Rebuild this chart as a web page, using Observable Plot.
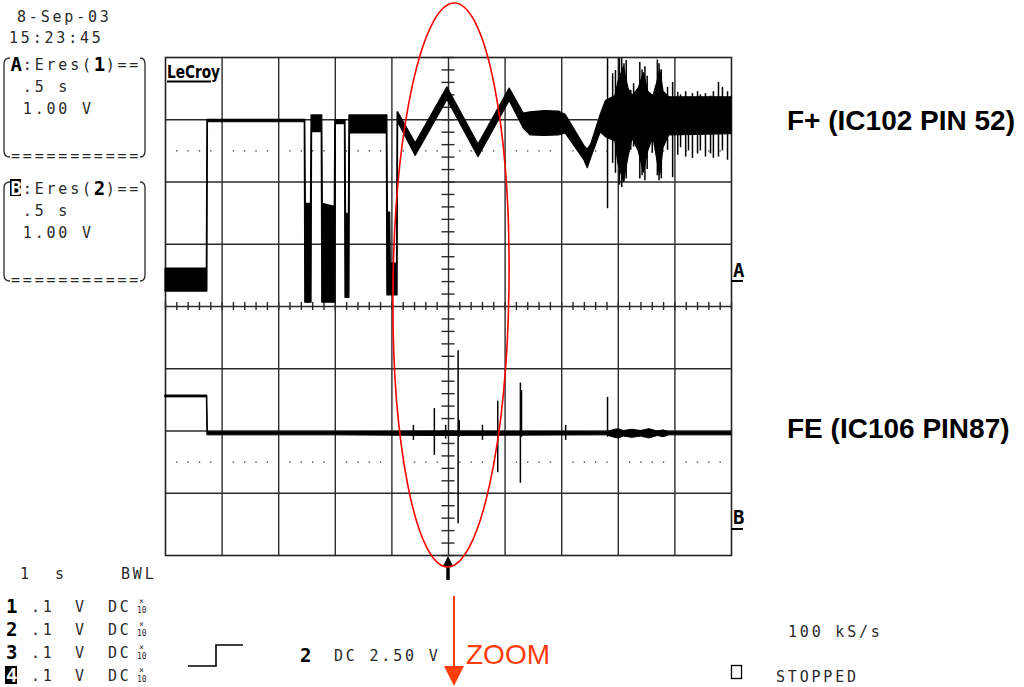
<!DOCTYPE html>
<html><head><meta charset="utf-8">
<script src="https://cdn.jsdelivr.net/npm/d3@7"></script>
<script src="https://cdn.jsdelivr.net/npm/@observablehq/plot@0.6"></script>
<style>
html,body{margin:0;padding:0;background:#fff;}
#wrap{position:relative;width:1024px;height:687px;overflow:hidden;background:#fff;}
#wrap svg{position:absolute;left:0;top:0;}
.mono{font-family:"DejaVu Sans Mono",monospace;font-size:15px;letter-spacing:2.8px;fill:#2a2a2a;}
.big{font-family:"DejaVu Sans Mono",monospace;font-size:19px;font-weight:bold;fill:#000;}
.tiny{font-family:"DejaVu Sans Mono",monospace;font-size:8px;fill:#2a2a2a;}
.lab{font-family:"Liberation Sans",Arial,sans-serif;font-weight:bold;font-size:28px;fill:#000;}
</style></head><body><div id="wrap"></div>
<script>
// ---- Trace A (F+), time in s (1 s/div), volts (1 V/div) relative to its ground dots ----
const tA  = [-5.00,-4.27,-4.26,-4.25,-2.54,-2.53,-2.52,-2.43,-2.42,-2.41,-2.24,-2.23,-2.22,-2.01,-2.00,-1.99,-1.83,-1.82,-1.81,-1.76,-1.75,-1.74,-1.09,-1.08,-1.07,-1.03,-1.02,-0.91,-0.90,-0.89,-0.58,-0.02,0.53,1.08,1.33,1.45,1.70,1.95,2.07,2.40,2.46,2.52,2.69,2.78,2.95,3.00,3.10,3.18,3.25,3.36,3.45,3.53,3.62,3.69,3.74,3.80,3.90,5.00];
const hiA = [-1.89,-1.89,0.50,0.50,0.50,0.50,-0.85,-0.85,0.57,0.57,0.57,0.57,-0.85,-0.90,0.49,0.49,0.49,0.49,-1.01,-1.01,0.57,0.57,0.57,0.57,-0.99,-0.99,-1.81,-1.81,0.62,0.62,0.12,1.02,0.10,1.00,0.60,0.62,0.64,0.63,0.58,0.08,0.02,0.10,0.58,0.80,0.88,1.10,1.35,1.00,0.88,1.00,1.25,0.95,0.88,1.10,1.30,0.95,0.86,0.86];
const loA = [-2.26,-2.26,-2.26,0.46,0.46,-2.44,-2.44,-2.44,-2.44,0.30,0.30,-2.44,-2.44,-2.44,-2.44,0.43,0.43,-2.36,-2.36,-2.36,-2.36,0.28,0.28,-2.32,-2.32,-2.32,-2.32,-2.32,-2.32,0.46,-0.08,0.82,-0.10,0.80,0.36,0.25,0.24,0.25,0.28,-0.15,-0.28,-0.12,0.30,0.22,0.15,-0.20,-0.50,-0.10,0.20,0.00,-0.35,0.00,0.22,-0.15,-0.40,0.05,0.25,0.27];
// spikes of trace A
const spTA  = [2.81,2.90,2.95,3.02,3.06,3.10,3.14,3.22,3.27,3.38,3.42,3.47,3.51,3.60,3.69,3.72,3.76,3.87,3.96,4.05,4.10,4.19,4.24,4.31,4.40,4.45,4.54,4.63,4.68,4.77,4.84,4.93];
const spHiA = [1.48,1.24,1.29,1.48,1.48,1.40,1.45,0.97,1.08,1.42,1.30,1.35,1.20,0.86,1.46,1.40,1.30,1.02,1.10,0.94,0.90,0.95,0.85,0.92,0.95,0.90,0.92,0.88,0.95,1.10,1.02,0.95];
const spLoA = [-0.93,-0.20,-0.36,-0.55,-0.59,-0.50,-0.45,0.01,0.06,-0.45,-0.40,-0.48,-0.30,-0.04,-0.40,-0.48,-0.45,0.01,-0.43,-0.07,0.05,-0.10,0.00,-0.12,-0.05,0.00,-0.10,-0.05,-0.12,-0.10,0.00,-0.15];

// ---- Trace B (FE) ----
const tB  = [-5.00,-4.27,-4.26,-4.25,-2.00,-0.30,2.80,2.90,3.00,3.10,3.25,3.40,3.55,3.70,3.80,3.90,5.00];
const hiB = [1.07,1.07,1.07,0.48,0.48,0.49,0.48,0.51,0.53,0.50,0.52,0.50,0.53,0.49,0.51,0.48,0.48];
const loB = [1.04,1.04,0.43,0.43,0.43,0.42,0.43,0.40,0.38,0.41,0.39,0.41,0.38,0.42,0.40,0.43,0.43];
const spTB  = [-0.62,-0.25,-0.05,0.17,0.19,0.60,0.87,1.27,1.29,2.07,2.81];
const spHiB = [0.59,0.86,0.59,1.79,0.67,0.59,0.98,1.27,1.15,0.59,1.04];
const spLoB = [0.35,0.11,0.37,-0.99,0.40,0.35,-0.17,-0.34,0.40,0.35,0.40];

// screen offsets of the two traces (divisions)
const offA = 2.5, offB = -2.5;

// graticule
const gridX = [-4,-3,-2,-1,0,1,2,3,4];
const gridY = [-3,-2,-1,0,1,2,3];
const minorX = d3.range(-25,26).map(i => i/5);
const minorY = d3.range(-20,21).map(i => i/5);
const dotX = d3.range(-25,25).filter(i => i % 5 !== 0).map(i => i/5);
const groundY = [offA, offB];

const rowsA = tA.map((t,i) => ({t, hi: hiA[i]+offA, lo: loA[i]+offA}));
const rowsB = tB.map((t,i) => ({t, hi: hiB[i]+offB, lo: loB[i]+offB}));
const spA = spTA.map((t,i) => ({t, hi: spHiA[i]+offA, lo: spLoA[i]+offA}));
const spB = spTB.map((t,i) => ({t, hi: spHiB[i]+offB, lo: spLoB[i]+offB}));
const dots = groundY.flatMap(y => dotX.map(x => ({x, y})));

const chart = Plot.plot({
  width: 1024, height: 687,
  marginLeft: 165, marginRight: 293, marginTop: 57, marginBottom: 132,
  x: {domain: [-5, 5], axis: null},
  y: {domain: [-4, 4], axis: null},
  style: {background: "transparent", overflow: "visible"},
  marks: [
    Plot.ruleX(gridX, {stroke: "#2b2b2b", strokeWidth: 1.4}),
    Plot.ruleY(gridY, {stroke: "#2b2b2b", strokeWidth: 1.4}),
    Plot.ruleX(minorX, {y1: -0.065, y2: 0.065, stroke: "#2b2b2b", strokeWidth: 1.4}),
    Plot.ruleY(minorY, {x1: -0.115, x2: 0.115, stroke: "#2b2b2b", strokeWidth: 1.4}),
    Plot.dot(dots, {x: "x", y: "y", r: 0.8, fill: "#555", stroke: null}),
    Plot.frame({stroke: "#222", strokeWidth: 1.6}),
    Plot.areaY(rowsA, {x: "t", y1: "lo", y2: "hi", fill: "#000", stroke: "#000", strokeWidth: 1.2}),
    Plot.ruleX(spA, {x: "t", y1: "lo", y2: "hi", stroke: "#000", strokeWidth: 1.5}),
    Plot.areaY(rowsB, {x: "t", y1: "lo", y2: "hi", fill: "#000", stroke: "#000", strokeWidth: 1}),
    Plot.ruleX(spB, {x: "t", y1: "lo", y2: "hi", stroke: "#000", strokeWidth: 1.5})
  ]
});
const wrap = document.getElementById("wrap");
wrap.appendChild(chart);

// ---- scope screen annotations ----
const P = 11.83; // character pitch
const rowsY = [612, 635, 658, 681];
let ch = "";
rowsY.forEach((by, i) => {
  if (i === 3) ch += `<rect x="5" y="${by-15}" width="12" height="18" fill="#000"/><text class="big" x="6" y="${by+1}" style="fill:#fff">4</text>`;
  else ch += `<text class="big" x="6" y="${by+1}">${i+1}</text>`;
  ch += `<text class="mono" x="31" y="${by}">.1</text><text class="mono" x="75" y="${by}">V</text><text class="mono" x="108" y="${by}">DC</text>`;
  ch += `<text class="tiny" x="139" y="${by-8}">×</text><text class="tiny" x="137" y="${by+1}">10</text>`;
});
function box(y0, label, num, inv) {
  const top = y0 - 10, bot = y0 + 85;
  let s = `<path d="M10 ${top-2} Q4 ${top-2} 4 ${top+4} L4 ${bot-4} Q4 ${bot+2} 10 ${bot+2}" fill="none" stroke="#2a2a2a" stroke-width="1.3"/>`;
  s += `<path d="M140 ${top-2} Q145 ${top-2} 145 ${top+4} L145 ${bot-4} Q145 ${bot+2} 140 ${bot+2}" fill="none" stroke="#2a2a2a" stroke-width="1.3"/>`;
  if (inv) s += `<rect x="10" y="${y0-15}" width="11" height="17" fill="#000"/><text class="big" x="10.5" y="${y0+1}" style="fill:#fff">${label}</text>`;
  else s += `<text class="big" x="10.5" y="${y0+1}">${label}</text>`;
  s += `<text class="mono" x="${11+P}" y="${y0}">:Eres(</text>`;
  s += `<text class="big" x="${11+7*P}" y="${y0+1}">${num}</text>`;
  s += `<text class="mono" x="${11+8*P}" y="${y0}">)==</text>`;
  s += `<text class="mono" x="${11+P}" y="${y0+22}">.5 s</text>`;
  s += `<text class="mono" x="${11+P}" y="${y0+44}">1.00 V</text>`;
  s += `<text class="mono" x="11" y="${bot+6}">===========</text>`;
  return s;
}
const ov = `
<svg width="1024" height="687" xmlns="http://www.w3.org/2000/svg" style="pointer-events:none">
  <text class="mono" x="17" y="22">8-Sep-03</text>
  <text class="mono" x="9" y="43">15:23:45</text>
  ${box(70, "A", "1", false)}
  ${box(194, "B", "2", true)}
  <text x="167" y="78" textLength="53" lengthAdjust="spacingAndGlyphs" style="font-family:'DejaVu Sans Condensed','DejaVu Sans',sans-serif;font-weight:bold;font-size:17px;fill:#000">LeCroy</text>
  <line x1="167" y1="81.5" x2="211" y2="81.5" stroke="#000" stroke-width="2"/>
  <text class="big" x="733" y="277">A</text>
  <line x1="731" y1="281" x2="743" y2="281" stroke="#000" stroke-width="2"/>
  <text class="big" x="733" y="524">B</text>
  <line x1="731" y1="529" x2="743" y2="529" stroke="#000" stroke-width="2"/>
  <polygon points="443,566 453,566 448,556" fill="#000"/>
  <line x1="448" y1="562" x2="448" y2="580" stroke="#000" stroke-width="3.5"/>
  <text class="mono" x="20" y="579">1</text>
  <text class="mono" x="55" y="579">s</text>
  <text class="mono" x="121" y="579">BWL</text>
  ${ch}
  <polyline points="188,666 216,666 216,645 243,645" fill="none" stroke="#000" stroke-width="1.6"/>
  <text class="big" x="300" y="662">2</text>
  <text class="mono" x="334" y="661">DC 2.50 V</text>
  <line x1="454" y1="596" x2="454" y2="668" stroke="#ff3c0a" stroke-width="2"/>
  <polygon points="444,666 464,666 454,686" fill="#ff3c0a"/>
  <text x="466" y="664" style="font-family:'Liberation Sans',Arial,sans-serif;font-size:28px;fill:#ff3c0a">ZOOM</text>
  <text class="mono" x="788" y="637">100 kS/s</text>
  <rect x="731.5" y="665.5" width="10" height="13" fill="none" stroke="#000" stroke-width="1.3"/>
  <text class="mono" x="776" y="682">STOPPED</text>
  <text class="lab" x="787" y="130">F+ (IC102 PIN 52)</text>
  <text class="lab" x="787" y="438">FE (IC106 PIN87)</text>
  <ellipse cx="451" cy="285" rx="58" ry="282" transform="rotate(0.7 451 285)" fill="none" stroke="#ff0000" stroke-width="1.6"/>
</svg>`;
wrap.insertAdjacentHTML("beforeend", ov);
</script>
</body></html>
